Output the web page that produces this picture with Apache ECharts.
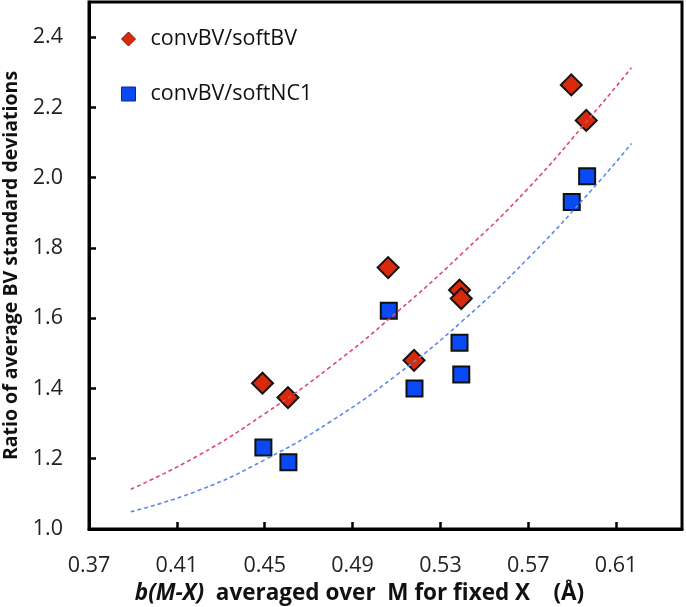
<!DOCTYPE html>
<html>
<head>
<meta charset="utf-8">
<script src="https://cdn.jsdelivr.net/npm/echarts@6/dist/echarts.min.js"></script>
<style>html,body{margin:0;padding:0;background:#fff;}#c{width:686px;height:607px;}</style>
</head>
<body>
<div id="c"></div>
<script>
// Tick labels
const xTicks = [0.37, 0.41, 0.45, 0.49, 0.53, 0.57, 0.61];
const yTicks = [1.0, 1.2, 1.4, 1.6, 1.8, 2.0, 2.2, 2.4];

// Scatter series: convBV/softBV (red diamonds)
const bvX = [0.449, 0.4606, 0.5062, 0.518, 0.5387, 0.5395, 0.5896, 0.5964];
const bvY = [1.415, 1.374, 1.744, 1.48, 1.68, 1.656, 2.264, 2.163];
// Scatter series: convBV/softNC1 (blue squares)
const ncX = [0.4494, 0.4608, 0.5065, 0.5182, 0.5387, 0.5395, 0.5898, 0.5968];
const ncY = [1.232, 1.19, 1.621, 1.40, 1.53, 1.44, 1.931, 2.004];

// Trend lines
const trendX = [0.389, 0.42, 0.45, 0.48, 0.51, 0.54, 0.57, 0.60, 0.617];
const trendBV = [1.113, 1.21, 1.328, 1.462, 1.616, 1.785, 1.97, 2.185, 2.313];
const trendNC = [1.049, 1.11, 1.197, 1.306, 1.438, 1.592, 1.771, 1.973, 2.097];

const zip = (a, b) => a.map((v, i) => [v, b[i]]);

const FONT = '"Open Sans", sans-serif';
const chart = echarts.init(document.getElementById('c'));
chart.setOption({
  animation: false,
  backgroundColor: '#fff',
  grid: { left: 89, right: 4, top: 2, bottom: 78, show: true, borderColor: '#000', borderWidth: 3, containLabel: false, outerBoundsMode: 'none' },
  legend: {
    orient: 'vertical', left: 116, top: 23, itemGap: 33,
    itemWidth: 14, itemHeight: 14,
    textStyle: { fontFamily: FONT, fontSize: 21.5, color: '#111', padding: [0, 0, 0, 10] },
    data: [
      { name: 'convBV/softBV', icon: 'diamond', itemStyle: { borderWidth: 1, borderColor: '#7a1a08' } },
      { name: 'convBV/softNC1', icon: 'rect', itemStyle: { borderWidth: 1, borderColor: '#0a2a80' } }
    ]
  },
  xAxis: {
    type: 'value', min: 0.37, max: 0.64,
    axisLine: { show: true, lineStyle: { color: '#000', width: 3 } },
    axisTick: { show: true, inside: true, length: 7, lineStyle: { color: '#000', width: 2.5 }, customValues: xTicks },
    axisLabel: { customValues: xTicks, margin: 26, fontFamily: FONT, fontSize: 21.5, color: '#222', formatter: v => v.toFixed(2) },
    splitLine: { show: false },
    name: '{bi|b(M-X)}{b|  averaged over  M for fixed X    (Å)}',
    nameLocation: 'middle', nameGap: 49,
    nameTextStyle: {
      padding: [0, 52, 0, 0],
      rich: {
        bi: { fontFamily: FONT, fontSize: 22.5, fontWeight: 'bold', fontStyle: 'italic', color: '#111' },
        b: { fontFamily: FONT, fontSize: 22.5, fontWeight: 'bold', color: '#111' }
      }
    }
  },
  yAxis: {
    type: 'value', min: 1.0, max: 2.5,
    axisLine: { show: true, lineStyle: { color: '#000', width: 3 } },
    axisTick: { show: true, inside: true, length: 7, lineStyle: { color: '#000', width: 2.5 }, customValues: yTicks },
    axisLabel: { customValues: yTicks, margin: 26, fontFamily: FONT, fontSize: 21.5, color: '#222', formatter: v => v.toFixed(1) },
    splitLine: { show: false },
    name: 'Ratio of average BV standard deviations',
    nameLocation: 'middle', nameGap: 64,
    nameTextStyle: { fontFamily: FONT, fontSize: 19.5, fontWeight: 'bold', color: '#111' }
  },
  series: [
    {
      name: 'convBV/softBV', type: 'scatter', symbol: 'diamond', symbolSize: 21, z: 3,
      itemStyle: { color: '#d82a0a', borderColor: '#111', borderWidth: 2, opacity: 1 },
      data: zip(bvX, bvY)
    },
    {
      name: 'convBV/softNC1', type: 'scatter', symbol: 'rect', symbolSize: 16, z: 3,
      itemStyle: { color: '#0a4af5', borderColor: '#111', borderWidth: 2, opacity: 1 },
      data: zip(ncX, ncY)
    },
    {
      name: 'trendBV', type: 'line', smooth: true, symbol: 'none', z: 4, silent: true,
      lineStyle: { color: '#e04a6a', width: 1.6, type: [4, 3] },
      data: zip(trendX, trendBV)
    },
    {
      name: 'trendNC', type: 'line', smooth: true, symbol: 'none', z: 4, silent: true,
      lineStyle: { color: '#5a8ae8', width: 1.6, type: [4, 3] },
      data: zip(trendX, trendNC)
    }
  ]
});
</script>
</body>
</html>
